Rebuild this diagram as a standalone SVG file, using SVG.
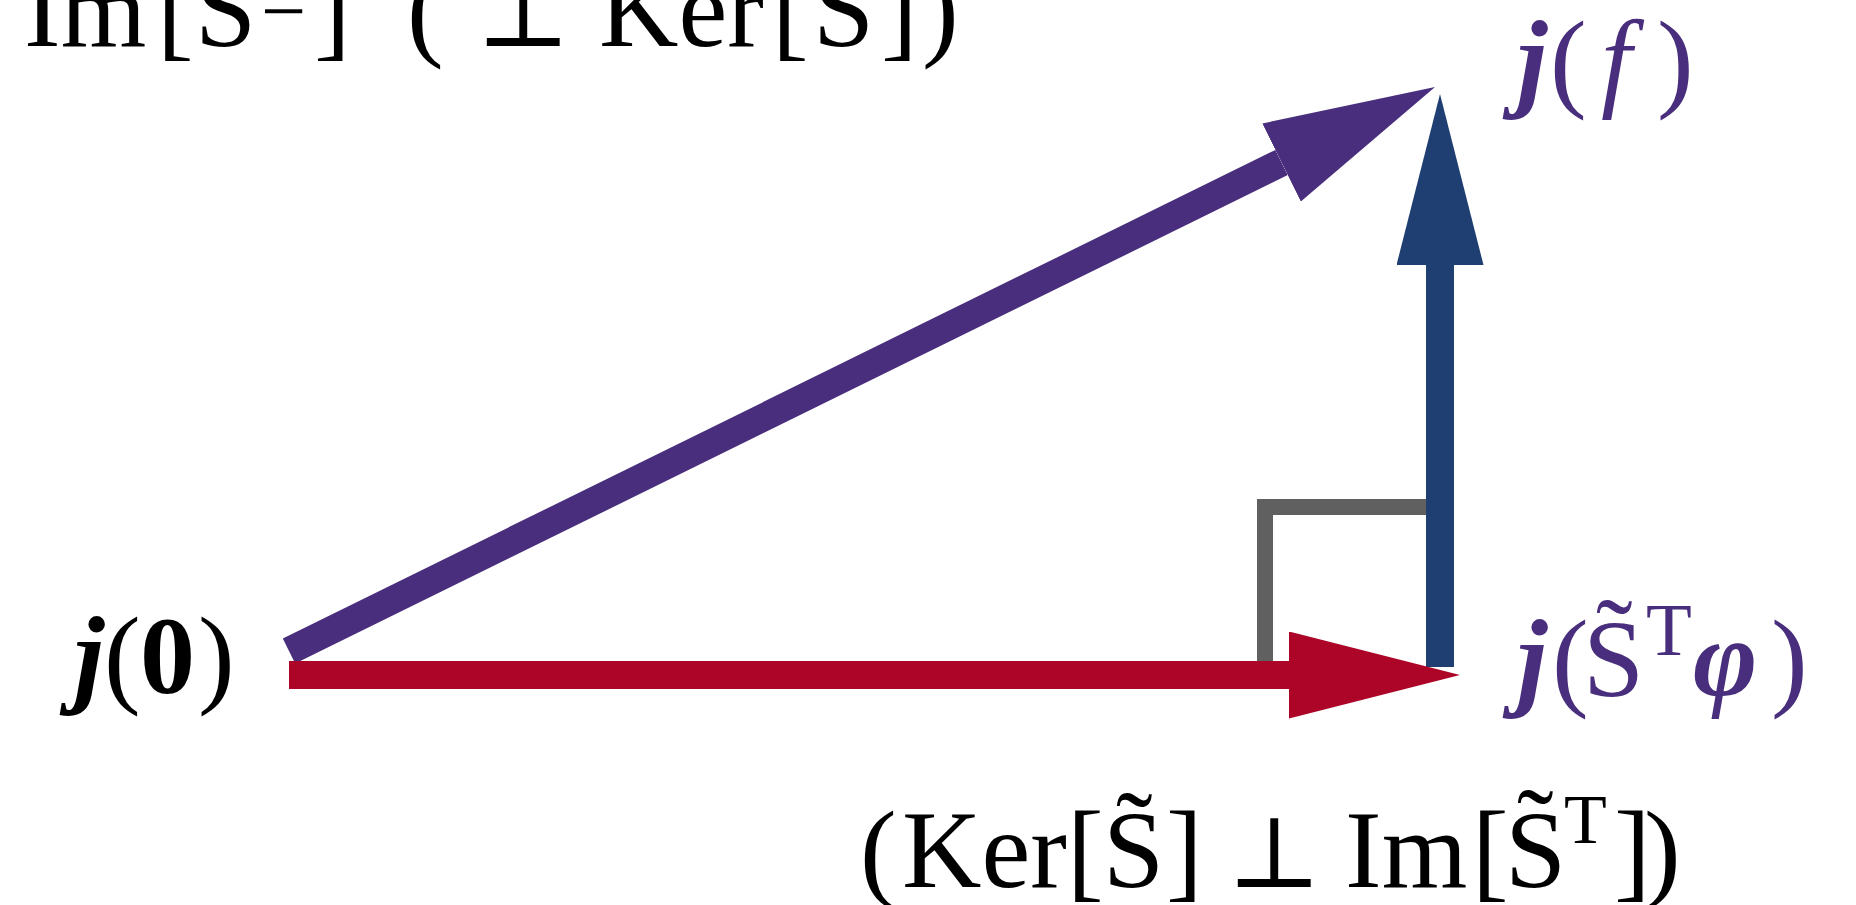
<svg xmlns="http://www.w3.org/2000/svg" width="1856" height="905" viewBox="0 0 1856 905">
<style>
.lbl{font-family:"Liberation Serif","DejaVu Serif",serif;font-size:110px;fill:#000}
.pur{fill:#482E7C}
.bi{font-weight:bold;font-style:italic}
.it{font-style:italic}
.b{font-weight:bold}
.sup{font-size:75px}
.sup70{font-size:70px}
.min{font-size:80px}
.perp{font-size:100px}
.shaft{fill:none;stroke-width:28;stroke-linecap:butt}
</style>
<defs>
<marker id="ahPurple" markerUnits="userSpaceOnUse" viewBox="0 0 171 87" markerWidth="171" markerHeight="87" refX="0" refY="43.5" orient="auto"><path d="M0,0 L171,43.5 L0,87 Z" fill="#482E7C"/></marker>
<marker id="ahBlue" markerUnits="userSpaceOnUse" viewBox="0 0 171 87" markerWidth="171" markerHeight="87" refX="0" refY="43.5" orient="auto"><path d="M0,0 L171,43.5 L0,87 Z" fill="#1F3F73"/></marker>
<marker id="ahRed" markerUnits="userSpaceOnUse" viewBox="0 0 171 87" markerWidth="171" markerHeight="87" refX="0" refY="43.5" orient="auto"><path d="M0,0 L171,43.5 L0,87 Z" fill="#AD0528"/></marker>
</defs>
<rect width="1856" height="905" fill="#fff"/>
<g id="connectors">
<path id="right-angle" d="M1265,661 V507 H1427" fill="none" stroke="#606060" stroke-width="16" stroke-linejoin="miter"/>
<line id="arrow-ker" class="shaft" x1="1440" y1="667" x2="1440" y2="265" stroke="#1F3F73" marker-end="url(#ahBlue)"/>
<line id="arrow-f" class="shaft" x1="289" y1="651" x2="1281.6" y2="162.5" stroke="#482E7C" marker-end="url(#ahPurple)"/>
<line id="arrow-im" class="shaft" x1="289" y1="675" x2="1289" y2="675" stroke="#AD0528" marker-end="url(#ahRed)"/>
</g>
<g id="label-top">
<text class="lbl" y="46"><tspan x="24">Im</tspan><tspan x="157">[</tspan><tspan x="195">S</tspan><tspan x="314">]</tspan><tspan x="407">(</tspan><tspan class="perp" x="476">⊥</tspan><tspan x="599">Ker</tspan><tspan x="772">[</tspan><tspan x="813">S</tspan><tspan x="881">]</tspan><tspan x="922">)</tspan></text>
<text class="lbl min" x="261" y="38">−</text>
</g>
<g id="node-j0">
<text class="lbl" y="693"><tspan class="bi" x="74">j</tspan><tspan x="104">(</tspan><tspan class="b" x="140">0</tspan><tspan x="198">)</tspan></text>
</g>
<g id="node-jf">
<text class="lbl pur" y="97"><tspan class="bi" x="1517">j</tspan><tspan x="1550">(</tspan><tspan class="it" x="1601">f</tspan><tspan x="1657">)</tspan></text>
</g>
<g id="node-jST">
<text class="lbl pur" y="696"><tspan class="bi" x="1517">j</tspan><tspan x="1552">(</tspan><tspan x="1583">S</tspan><tspan class="bi" x="1693">φ</tspan><tspan x="1771">)</tspan></text>
<text class="lbl pur sup" x="1646" y="655">T</text>
<text class="lbl pur" x="1596" y="674">˜</text>
</g>
<g id="label-bottom">
<text class="lbl" y="887"><tspan x="860">(</tspan><tspan x="902">Ker</tspan><tspan x="1067">[</tspan><tspan x="1103">S</tspan><tspan x="1166">]</tspan><tspan class="perp" x="1227">⊥</tspan><tspan x="1345">Im</tspan><tspan x="1472">[</tspan><tspan x="1505">S</tspan><tspan x="1614">]</tspan><tspan x="1644">)</tspan></text>
<text class="lbl sup70" x="1564" y="843">T</text>
<text class="lbl" x="1116" y="867">˜</text>
<text class="lbl" x="1517" y="864">˜</text>
</g>
</svg>
